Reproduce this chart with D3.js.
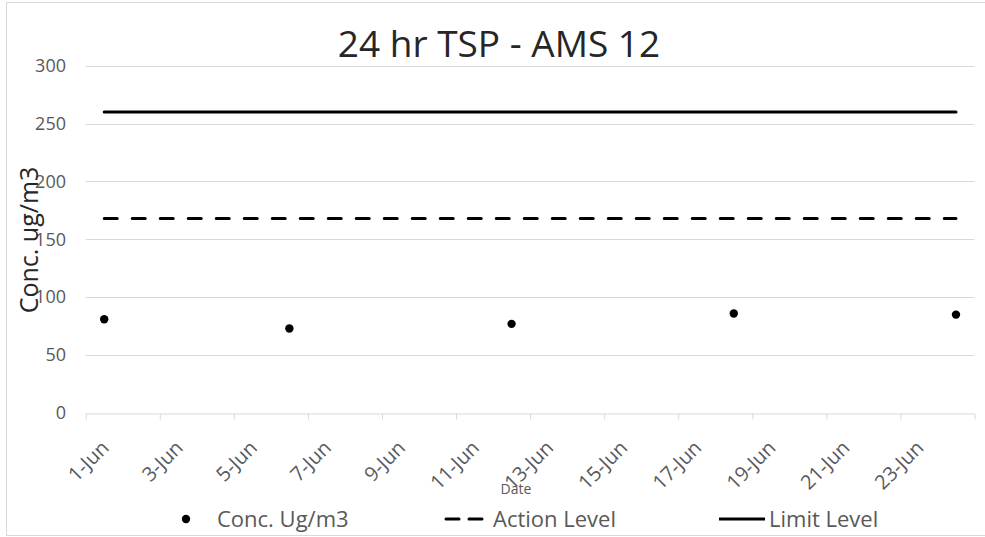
<!DOCTYPE html>
<html><head><meta charset="utf-8">
<script src="https://cdn.jsdelivr.net/npm/d3@7"></script>
<style>
html,body{margin:0;padding:0;background:#fff;}
svg{display:block;font-family:"Open Sans",sans-serif;}
</style></head>
<body>
<svg id="chart" width="985" height="537"></svg>
<script>
const title = "24 hr TSP - AMS 12";
const yTitle = "Conc. ug/m3";
const xTitle = "Date";
const seriesNames = ["Conc. Ug/m3", "Action Level", "Limit Level"];
const sampleDays = [1, 6, 12, 18, 24];
const concValues = [81, 73, 77, 86, 85];
const lineDays = [1, 24];
const actionLevel = [168, 168];
const limitLevel = [260, 260];
const yTicks = [0, 50, 100, 150, 200, 250, 300];
const xTickDays = [1, 3, 5, 7, 9, 11, 13, 15, 17, 19, 21, 23, 25];
const xLabelDays = [1, 3, 5, 7, 9, 11, 13, 15, 17, 19, 21, 23];

const svg = d3.select("#chart");
const m = {left: 85.7, right: 974.5, top: 65.7, bottom: 413};

// chart border
svg.append("rect").attr("x", 6.5).attr("y", 2.5).attr("width", 990).attr("height", 533)
  .attr("fill", "none").attr("stroke", "#d9d9d9").attr("stroke-width", 1);

const x = d3.scaleLinear().domain([1, 25]).range([m.left, m.right]);
const xc = d => x(d + 0.5); // dates sit between tick marks
const y = d3.scaleLinear().domain([0, 300]).range([m.bottom, m.top]);

// gridlines
svg.append("g").selectAll("line").data(yTicks.filter(t => t > 0)).join("line")
  .attr("x1", m.left).attr("x2", m.right)
  .attr("y1", d => Math.round(y(d)) + 0.5).attr("y2", d => Math.round(y(d)) + 0.5)
  .attr("stroke", "#d9d9d9").attr("stroke-width", 1);

// y axis labels
const yAxis = d3.axisLeft(y).tickValues(yTicks).tickSize(0).tickPadding(0);
const yg = svg.append("g").attr("transform", `translate(66,0)`).call(yAxis);
yg.select(".domain").remove();
yg.selectAll("text").attr("font-size", 18).attr("fill", "#595959")
  .attr("font-family", "Open Sans, sans-serif");

// x axis
const xAxis = d3.axisBottom(x).tickValues(xTickDays).tickSize(6).tickFormat("");
const xg = svg.append("g").attr("transform", `translate(0,${Math.round(m.bottom) + 0.5})`).call(xAxis);
xg.select(".domain").attr("stroke", "#d9d9d9").attr("d", `M${m.left},0.5H${m.right}`);
xg.selectAll(".tick line").attr("stroke", "#d9d9d9");

const fmt = d => `${d}-Jun`;
svg.append("g").selectAll("text").data(xLabelDays).join("text")
  .attr("transform", d => `translate(${xc(d) + 6},${m.bottom + 36}) rotate(-45)`)
  .attr("text-anchor", "end")
  .attr("font-size", 20).attr("fill", "#595959")
  .text(fmt);

// lines
const line = d3.line().x((d, i) => xc(lineDays[i])).y(d => y(d));
svg.append("path").datum(actionLevel).attr("d", line)
  .attr("fill", "none").attr("stroke", "#000").attr("stroke-width", 3)
  .attr("stroke-dasharray", "13,15").attr("stroke-linecap", "round");
svg.append("path").datum(limitLevel).attr("d", line)
  .attr("fill", "none").attr("stroke", "#000").attr("stroke-width", 3)
  .attr("stroke-linecap", "round");

// points
svg.append("g").selectAll("circle").data(concValues).join("circle")
  .attr("cx", (d, i) => xc(sampleDays[i])).attr("cy", d => y(d)).attr("r", 4.2)
  .attr("fill", "#000");

// title
svg.append("text").attr("x", 499).attr("y", 57).attr("text-anchor", "middle")
  .attr("font-size", 37).attr("fill", "#262626").text(title);

// axis titles
svg.append("text").attr("transform", `translate(38,240) rotate(-90)`)
  .attr("text-anchor", "middle").attr("font-size", 25).attr("fill", "#262626").text(yTitle);
svg.append("text").attr("x", 516).attr("y", 494).attr("text-anchor", "middle")
  .attr("font-size", 14).attr("fill", "#595959").text(xTitle);

// legend
const ly = 519;
const lg = svg.append("g");
lg.append("circle").attr("cx", 186).attr("cy", ly).attr("r", 4.2).attr("fill", "#000");
lg.append("text").attr("x", 217).attr("y", ly).attr("dy", "0.35em")
  .attr("font-size", 22).attr("fill", "#595959").text(seriesNames[0]);
lg.append("line").attr("x1", 446).attr("x2", 482).attr("y1", ly).attr("y2", ly)
  .attr("stroke", "#000").attr("stroke-width", 3).attr("stroke-dasharray", "13,10")
  .attr("stroke-linecap", "round");
lg.append("text").attr("x", 493).attr("y", ly).attr("dy", "0.35em")
  .attr("font-size", 22).attr("fill", "#595959").text(seriesNames[1]);
lg.append("line").attr("x1", 719).attr("x2", 765).attr("y1", ly).attr("y2", ly)
  .attr("stroke", "#000").attr("stroke-width", 3);
lg.append("text").attr("x", 769).attr("y", ly).attr("dy", "0.35em")
  .attr("font-size", 22).attr("fill", "#595959").text(seriesNames[2]);
</script>
</body></html>
